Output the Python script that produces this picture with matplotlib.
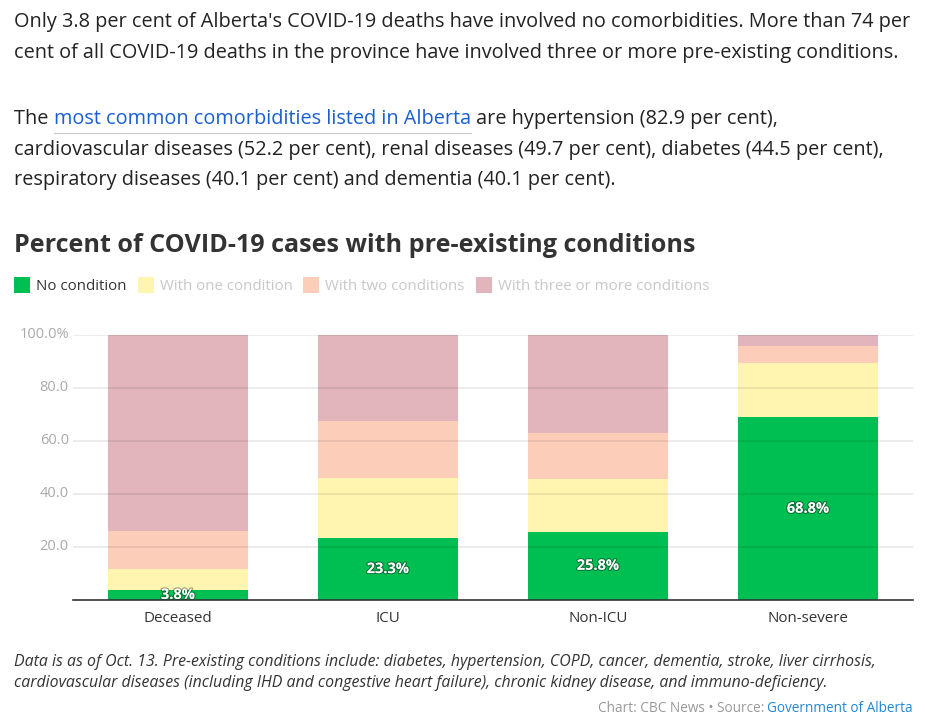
import matplotlib
matplotlib.use("Agg")
import matplotlib.pyplot as plt
import matplotlib.patheffects as pe
import numpy as np

plt.rcParams["font.family"] = ["Open Sans", "DejaVu Sans"]

# data (percent of cases)
categories = ["Deceased", "ICU", "Non-ICU", "Non-severe"]
no_condition = [3.8, 23.3, 25.8, 68.8]
one_condition = [7.9, 22.7, 19.8, 20.5]
two_conditions = [14.3, 21.5, 17.3, 6.4]
three_plus = [74.0, 32.5, 37.1, 4.3]

series_names = ["No condition", "With one condition", "With two conditions",
                "With three or more conditions"]
series_colors = ["#00bf52", "#fff5b0", "#fccdb9", "#e1b5bb"]
yticks = [20, 40, 60, 80, 100]
ytick_labels = ["20.0", "40.0", "60.0", "80.0", "100.0%"]

W, H = 925, 724
fig = plt.figure(figsize=(W / 100, H / 100), dpi=100)
bg = fig.add_axes([0, 0, 1, 1])
bg.set_xlim(0, W)
bg.set_ylim(H, 0)
bg.axis("off")

TXT = "#222222"
LINK = "#1a5fd0"
FS = 14.35

# intro paragraphs
body = dict(fontsize=FS, color=TXT, va="center", ha="left")
bg.text(14, 22, "Only 3.8 per cent of Alberta's COVID-19 deaths have involved no comorbidities. "
        "More than 74 per", **body)
bg.text(14, 53, "cent of all COVID-19 deaths in the province have involved three or more "
        "pre-existing conditions.", **body)

t_the = bg.text(14, 119, "The ", **body)
t_link = bg.annotate("most common comorbidities listed in Alberta", xy=(1, 0.5),
                     xycoords=t_the, va="center", ha="left", fontsize=FS, color=LINK)
bg.annotate(" are hypertension (82.9 per cent),", xy=(1, 0.5), xycoords=t_link,
            va="center", ha="left", fontsize=FS, color=TXT)
bg.text(14, 150, "cardiovascular diseases (52.2 per cent), renal diseases (49.7 per cent), "
        "diabetes (44.5 per cent),", **body)
bg.text(14, 180, "respiratory diseases (40.1 per cent) and dementia (40.1 per cent).", **body)

# chart title
bg.text(14, 245.5, "Percent of COVID-19 cases with pre-existing conditions",
        fontsize=18.1, fontweight="bold", color="#333333", va="center", ha="left")

# legend (only the first entry is active, the rest appear greyed out)
x0 = 14
for i, (name, col) in enumerate(zip(series_names, series_colors)):
    tcol = "#333333" if i == 0 else "#c8c8c8"
    bg.add_patch(plt.Rectangle((x0, 277), 16, 16, color=col, lw=0))
    t = bg.text(x0 + 22, 286, name, fontsize=10.8, color=tcol, va="center", ha="left")
    fig.canvas.draw()
    bb = t.get_window_extent()
    x0 = bb.x1 + 11

# footnotes
note = dict(fontsize=11.4, color="#333333", style="italic", va="center", ha="left")
bg.text(14, 662, "Data is as of Oct. 13. Pre-existing conditions include: diabetes, hypertension, "
        "COPD, cancer, dementia, stroke, liver cirrhosis,", **note)
bg.text(14, 683, "cardiovascular diseases (including IHD and congestive heart failure), "
        "chronic kidney disease, and immuno-deficiency.", **note)
t_src = bg.text(913, 708, "Government of Alberta", fontsize=9.8, color="#2187d6",
                va="center", ha="right")
bg.annotate("Chart: CBC News \u2022 Source: ", xy=(0, 0.5), xycoords=t_src,
            va="center", ha="right", fontsize=9.8, color="#999999")

# main chart axes
ax = fig.add_axes([73 / W, 1 - 600 / H, 840 / W, (600 - 334.7) / H])
x = np.arange(len(categories))
bottom = np.zeros(len(categories))
for vals, col in zip([no_condition, one_condition, two_conditions, three_plus], series_colors):
    ax.bar(x, vals, width=0.67, bottom=bottom, color=col, lw=0, zorder=2)
    bottom += np.array(vals)

for xi, v in zip(x, no_condition):
    ax.text(xi, v / 2, f"{v}%", ha="center", va="center", color="white",
            fontsize=10.5, fontweight="bold", zorder=4,
            path_effects=[pe.withStroke(linewidth=1.6, foreground="#00000060")])

ax.set_xlim(-0.5, len(categories) - 0.5)
ax.set_ylim(0, 100)
ax.set_yticks(yticks)
ax.set_yticklabels(ytick_labels)
ax.set_xticks(x)
ax.set_xticklabels(categories)
for yt in yticks:
    ax.axhline(yt, color="#000000", alpha=0.09, lw=1.2, zorder=3)

for s in ["top", "right", "left"]:
    ax.spines[s].set_visible(False)
ax.spines["bottom"].set_color("#333333")
ax.spines["bottom"].set_linewidth(1.2)
ax.spines["bottom"].set_zorder(5)
ax.tick_params(axis="y", length=0, labelsize=10.5, labelcolor="#aaaaaa", pad=3)
ax.tick_params(axis="x", length=0, labelsize=10.9, labelcolor="#333333", pad=8)
for lab in ax.get_yticklabels():
    lab.set_verticalalignment("center")

# underline the link text
fig.canvas.draw()
bb = t_link.get_window_extent()
inv = bg.transData.inverted()
(ux0, uy), (ux1, _) = inv.transform([(bb.x0, bb.y0), (bb.x1, bb.y0)])
bg.plot([ux0, ux1], [132.5, 132.5], color="#c8c8c8", lw=0.8)

fig.savefig("out.png", dpi=100)
